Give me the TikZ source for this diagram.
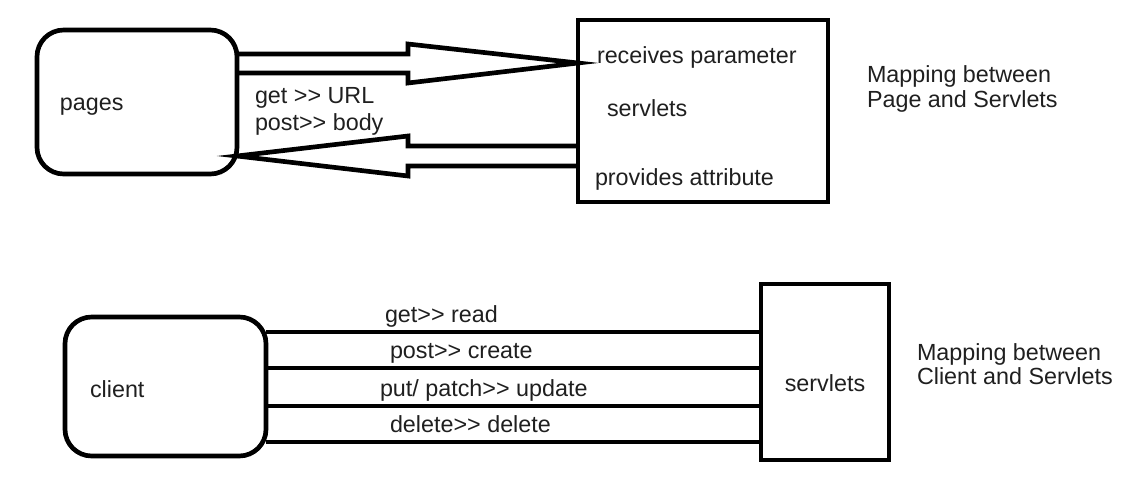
\documentclass[tikz,border=0pt]{standalone}
\usepackage{fontspec}
\setmainfont{Liberation Sans}[Ligatures=TeXOff]
\newdimen\pxu \pxu=0.75pt
\begin{document}
\begin{tikzpicture}[x=0.75pt,y=-0.75pt,
  box/.style={draw=black, line width=3.5pt, inner sep=0pt, outer sep=0pt},
  rbox/.style={box, rounded corners=20pt},
  txt/.style={inner sep=0pt, outer sep=0pt, font=\fontsize{17.5pt}{21pt}\selectfont, text=black!88},
  conn/.style={draw=black, line width=3.5pt, line join=miter},
]
\useasboundingbox (0,0) rectangle (1140,490);
% ---------- top ----------
\node[rbox, minimum width=200\pxu, minimum height=144\pxu] (pages) at (137,102) {};
\node[txt, anchor=base west] (pagesT) at (60,110) {pages};
\node[box, minimum width=250\pxu, minimum height=182\pxu] (srv1) at (703,111) {};
\node[txt, anchor=base west] (recv) at (597,63) {receives parameter};
\node[txt, anchor=base west] (srv1T) at (607,116) {servlets};
\node[txt, anchor=base west] (prov) at (595,185) {provides attribute};
\node[txt, anchor=base west] (getT) at (255,103) {get >> URL};
\node[txt, anchor=base west] (postT) at (255,130) {post>> body};
\node[txt, anchor=base west] (map1a) at (867,82) {Mapping between};
\node[txt, anchor=base west] (map1b) at (867,107) {Page and Servlets};
\coordinate (h1) at (408,0);
\draw[conn] (pages.east |- 0,54) -- (h1 |- 0,54) -- (h1 |- 0,44) -- (srv1.west |- 0,63)
  -- (h1 |- 0,83) -- (h1 |- 0,73) -- (pages.east |- 0,73);
\draw[conn] (srv1.west |- 0,146) -- (h1 |- 0,146) -- (h1 |- 0,136) -- (pages.east |- 0,156)
  -- (h1 |- 0,176) -- (h1 |- 0,166) -- (srv1.west |- 0,166);
% ---------- bottom ----------
\node[rbox, minimum width=201\pxu, minimum height=139\pxu] (client) at (165.5,386.5) {};
\node[txt, anchor=base west] (clientT) at (90,397) {client};
\node[box, minimum width=128\pxu, minimum height=176\pxu] (srv2) at (825,372) {};
\node[txt, anchor=base] (srv2T) at (825,391) {servlets};
\draw[conn] (client.east |- 0,332) -- (srv2.west |- 0,332);
\draw[conn] (client.east |- 0,368) -- (srv2.west |- 0,368);
\draw[conn] (client.east |- 0,406) -- (srv2.west |- 0,406);
\draw[conn] (client.east |- 0,442) -- (srv2.west |- 0,442);
\node[txt, anchor=base west] (l1) at (385,322) {get>> read};
\node[txt, anchor=base west] (l2) at (390,358) {post>> create};
\node[txt, anchor=base west] (l3) at (380,396) {put/ patch>> update};
\node[txt, anchor=base west] (l4) at (390,432) {delete>> delete};
\node[txt, anchor=base west] (map2a) at (917,360) {Mapping between};
\node[txt, anchor=base west] (map2b) at (917,384) {Client and Servlets};
\end{tikzpicture}
\end{document}
